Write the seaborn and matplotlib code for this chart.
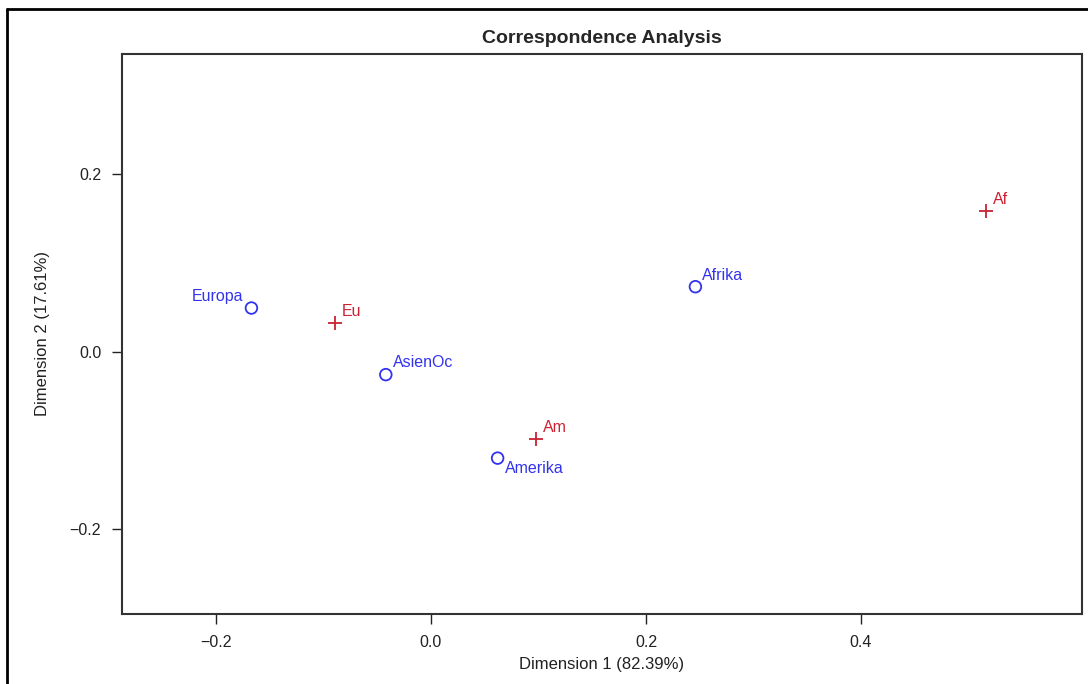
import pandas as pd
import matplotlib.pyplot as plt
from matplotlib.lines import Line2D
import seaborn as sns

sns.set_style('white')
plt.rcParams['font.family'] = ['Liberation Sans', 'DejaVu Sans']

# column points (continents)
col_names = ['Europa', 'AsienOc', 'Amerika', 'Afrika']
col_dim1 = [-0.167, -0.042, 0.062, 0.246]
col_dim2 = [0.049, -0.026, -0.120, 0.073]

# row points
row_names = ['Eu', 'Am', 'Af']
row_dim1 = [-0.089, 0.098, 0.516]
row_dim2 = [0.032, -0.099, 0.158]

blue = '#3333ee'
red = '#cc2233'

df_col = pd.DataFrame({'d1': col_dim1, 'd2': col_dim2, 'name': col_names})
df_row = pd.DataFrame({'d1': row_dim1, 'd2': row_dim2, 'name': row_names})

fig = plt.figure(figsize=(10.88, 6.84), dpi=100)
ax = fig.add_axes([122/1088, 1-614/684, (1082-122)/1088, (614-54)/684])

sns.scatterplot(data=df_col, x='d1', y='d2', marker='o', s=70, facecolor='none',
                edgecolor=blue, linewidth=1.3, ax=ax, legend=False)
sns.scatterplot(data=df_row, x='d1', y='d2', marker='+', s=90, color=red,
                linewidth=1.3, ax=ax, legend=False)

# labels: (dx, dy) offsets in points
col_off = {'Europa': (-6, 3, 'right', 'bottom'), 'AsienOc': (5, 3, 'left', 'bottom'),
           'Amerika': (5, -2, 'left', 'top'), 'Afrika': (5, 3, 'left', 'bottom')}
for n, x, y in zip(col_names, col_dim1, col_dim2):
    dx, dy, ha, va = col_off[n]
    ax.annotate(n, (x, y), xytext=(dx, dy), textcoords='offset points',
                ha=ha, va=va, color=blue, fontsize=11.5)
for n, x, y in zip(row_names, row_dim1, row_dim2):
    ax.annotate(n, (x, y), xytext=(5, 3), textcoords='offset points',
                ha='left', va='bottom', color=red, fontsize=11.5)

ax.set_xlim(-0.2874, 0.6056)
ax.set_ylim(-0.2955, 0.335)
ax.set_xticks([-0.2, 0.0, 0.2, 0.4])
ax.set_yticks([-0.2, 0.0, 0.2])
ax.set_xticklabels(['\u22120.2', '0.0', '0.2', '0.4'])
ax.set_yticklabels(['\u22120.2', '0.0', '0.2'])
ax.tick_params(axis='both', direction='out', length=7, width=1, labelsize=11.5,
               bottom=True, left=True, pad=8, colors='#222222')
for s in ax.spines.values():
    s.set_color('#333333')
    s.set_linewidth(1.5)
ax.set_xlabel('Dimension 1 (82.39%)', fontsize=12, labelpad=5, color='#222222')
ax.set_ylabel('Dimension 2 (17.61%)', fontsize=12, labelpad=14, color='#222222')
ax.set_title('Correspondence Analysis', fontsize=14, fontweight='bold', pad=8)

# outer frame
fig.add_artist(Line2D([7/1088, 1], [1-9/684, 1-9/684], transform=fig.transFigure,
                      color='black', linewidth=2))
fig.add_artist(Line2D([7/1088, 7/1088], [0, 1-9/684], transform=fig.transFigure,
                      color='black', linewidth=2))

fig.savefig('out.png', dpi=100)
